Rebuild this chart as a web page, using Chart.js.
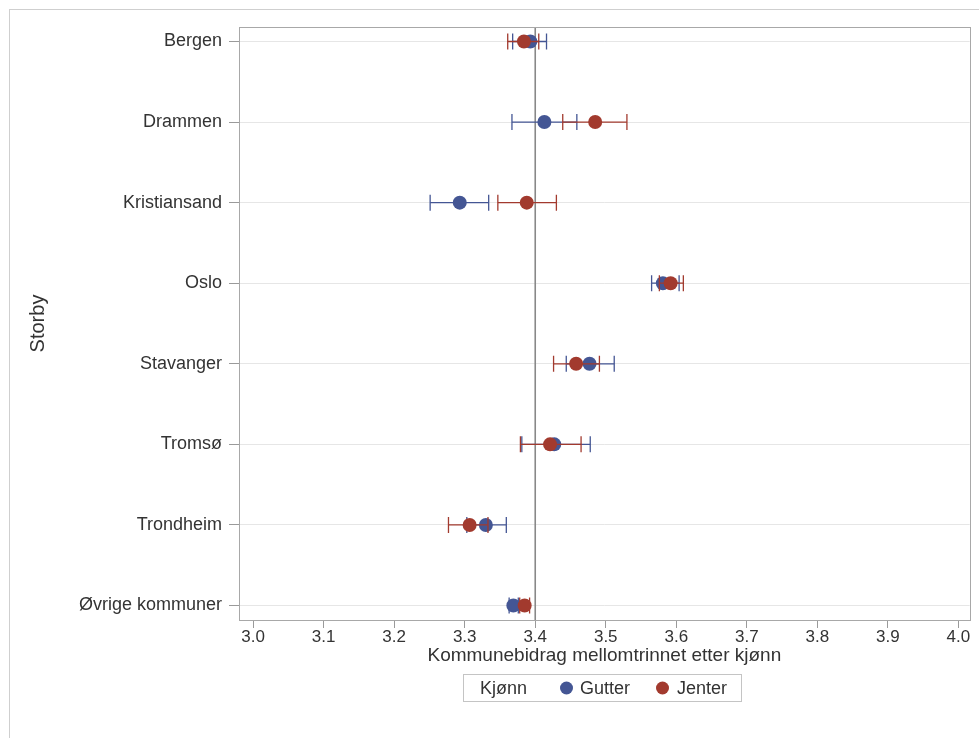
<!DOCTYPE html>
<html><head><meta charset="utf-8">
<script src="https://cdn.jsdelivr.net/npm/chart.js@4.4.1/dist/chart.umd.min.js"></script>
<style>
html,body{margin:0;padding:0;background:#fff;overflow:hidden;}
#wrap{position:relative;width:979px;height:738px;overflow:hidden;}
#frame{position:absolute;left:9px;top:9px;width:1100px;height:900px;border:1px solid #cfcfcf;}
#c{position:absolute;left:0;top:0;}
#legend{position:absolute;left:463px;top:674px;width:279px;height:28px;border:1px solid #c4c4c4;box-sizing:border-box;
 font-family:"Liberation Sans",Arial,sans-serif;font-size:18px;color:#333;}
#legend span{position:absolute;top:50%;transform:translateY(-50%);line-height:1;}
#legend span.d{width:13px;height:13px;border-radius:50%;}
</style></head>
<body><div id="wrap"><div id="frame"></div><canvas id="c" width="979" height="738"></canvas>
<div id="legend"><span style="left:16px">Kjønn</span><span class="d" style="left:96px;background:#445694"></span><span style="left:116px">Gutter</span><span class="d" style="left:192px;background:#A23A2E"></span><span style="left:213px">Jenter</span></div>
</div>
<script>
const categories = ['Bergen','Drammen','Kristiansand','Oslo','Stavanger','Tromsø','Trondheim','Øvrige kommuner'];
const xTickValues = [3.0,3.1,3.2,3.3,3.4,3.5,3.6,3.7,3.8,3.9,4.0];
const referenceValue = 3.4;
const gutterMean = [3.393, 3.413, 3.293, 3.581, 3.477, 3.427, 3.330, 3.369];
const gutterLow  = [3.368, 3.367, 3.251, 3.565, 3.444, 3.381, 3.303, 3.363];
const gutterHigh = [3.416, 3.459, 3.334, 3.604, 3.512, 3.478, 3.359, 3.376];
const jenterMean = [3.384, 3.485, 3.388, 3.592, 3.458, 3.421, 3.307, 3.385];
const jenterLow  = [3.361, 3.439, 3.347, 3.576, 3.426, 3.379, 3.277, 3.378];
const jenterHigh = [3.405, 3.530, 3.430, 3.610, 3.491, 3.465, 3.333, 3.392];

const BLUE = '#445694', RED = '#A23A2E';
const FONT = '"Liberation Sans", Arial, sans-serif';

function pts(mean){ return mean.map((v,i)=>({x:v,y:i})); }
function whiskers(lo,hi){
  const d=[];
  lo.forEach((v,i)=>{ d.push({x:v,y:i}); d.push({x:hi[i],y:i}); d.push({x:null,y:null}); });
  return d;
}
function whiskerDs(lo,hi,color,order){
  return {type:'line',label:'_w',data:whiskers(lo,hi),borderColor:color,borderWidth:1.3,
    showLine:true,spanGaps:false,pointStyle:'line',rotation:90,pointRadius:8,pointBorderWidth:1.3,
    pointBorderColor:color,pointHoverRadius:8,order:order};
}
function pointDs(mean,color,label,order){
  return {type:'scatter',label:label,data:pts(mean),backgroundColor:color,borderColor:color,
    pointRadius:7,pointBorderWidth:0,pointHoverRadius:7,order:order};
}

const framePlugin = {
  id:'frameRef',
  beforeDatasetsDraw(chart){
    const {ctx,chartArea:a,scales:{x}} = chart;
    const px = x.getPixelForValue(referenceValue);
    ctx.save();
    ctx.strokeStyle='#888888'; ctx.lineWidth=1.6;
    ctx.beginPath(); ctx.moveTo(px,a.top); ctx.lineTo(px,a.bottom); ctx.stroke();
    ctx.restore();
  },
  afterDraw(chart){
    const {ctx,chartArea:a} = chart;
    ctx.save(); ctx.strokeStyle='#a8a8a8'; ctx.lineWidth=1;
    ctx.strokeRect(Math.round(a.left)+0.5,Math.round(a.top)+0.5,Math.round(a.right-a.left),Math.round(a.bottom-a.top));
    ctx.restore();
  }
};

new Chart(document.getElementById('c'),{
  type:'scatter',
  data:{datasets:[
    pointDs(jenterMean,RED,'Jenter',0),
    whiskerDs(jenterLow,jenterHigh,RED,1),
    pointDs(gutterMean,BLUE,'Gutter',2),
    whiskerDs(gutterLow,gutterHigh,BLUE,3)
  ]},
  options:{
    responsive:false, animation:false,
    layout:{padding:{left:10,right:6,top:27,bottom:60}},
    plugins:{legend:{display:false},tooltip:{enabled:false},title:{display:false}},
    scales:{
      x:{type:'linear',position:'bottom',min:2.98,max:4.016,
        afterBuildTicks(s){ s.ticks = xTickValues.map(v=>({value:v})); },
        afterFit(s){ s.height = 58; },
        ticks:{callback:v=>Number(v).toFixed(1),font:{family:FONT,size:17},color:'#333',padding:-1,maxRotation:0,autoSkip:false},
        grid:{drawOnChartArea:false,drawTicks:true,tickLength:8,tickColor:'#9a9a9a',tickWidth:1},
        border:{display:false},
        title:{display:true,text:'Kommunebidrag mellomtrinnet etter kjønn',font:{family:FONT,size:19},color:'#333',padding:{top:0,bottom:11}}
      },
      y:{type:'linear',position:'left',reverse:true,min:-0.18,max:7.18,
        afterBuildTicks(s){ s.ticks = categories.map((c,i)=>({value:i})); },
        afterFit(s){ s.width = 229; },
        ticks:{callback:v=>categories[v],font:{family:FONT,size:18},color:'#333',padding:7,autoSkip:false},
        grid:{color:'#e6e6e6',lineWidth:1,drawTicks:true,tickLength:10,tickColor:'#9a9a9a'},
        border:{display:false},
        title:{display:true,text:'Storby',font:{family:FONT,size:20},color:'#333',padding:{top:16,bottom:0}}
      }
    }
  },
  plugins:[framePlugin]
});
</script></body></html>
